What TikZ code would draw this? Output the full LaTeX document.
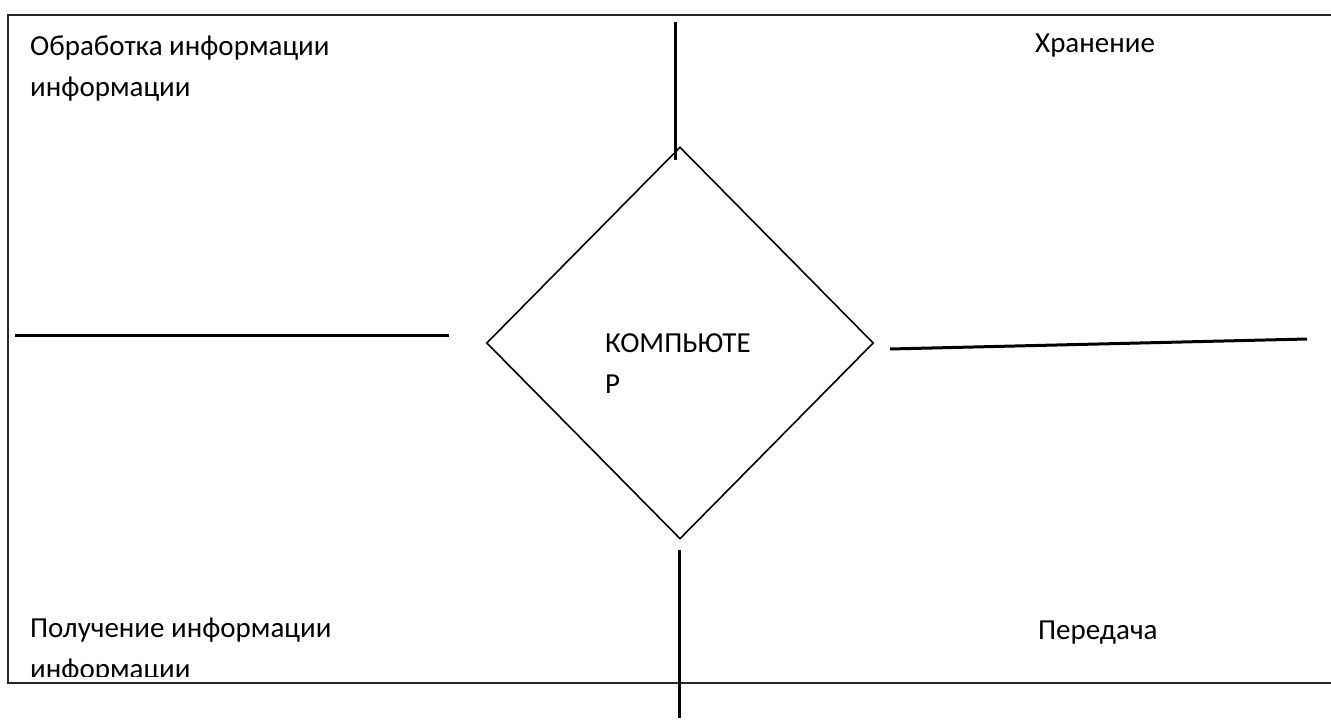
\documentclass[tikz,border=0pt]{standalone}
\usepackage{fontspec}
\setmainfont{Carlito}
\usetikzlibrary{shapes.geometric}
\tikzset{
  lbl/.style={anchor=base west, inner sep=0pt, align=left, font=\fontsize{29}{41}\selectfont},
  frame/.style={line width=1.8pt, black!85},
  bar/.style={line width=3pt, black},
  dia/.style={draw, diamond, line width=1.6pt, inner sep=0pt, minimum width=387pt, minimum height=392pt}
}
\begin{document}
\begin{tikzpicture}[x=1pt,y=-1pt]
\useasboundingbox (0,0) rectangle (1331,722);
\fill[white] (0,0) rectangle (1331,722);
% frame (right side lies beyond the picture)
\coordinate (fr1) at (1331,15);
\coordinate (fr2) at (8,15);
\coordinate (fr3) at (8,683);
\coordinate (fr4) at (1331,683);
\draw[frame] (fr1) -- (fr2) -- (fr3) -- (fr4);
% diamond
\node[dia] (pc) at (680,343) {};
\node[lbl] (pclabel) at (605,393) {КОМПЬЮТЕ\\Р};
% texts
\node[lbl] (proc) at (30,97) {Обработка информации\\информации};
\node[lbl] (store) at (1035,53) {Хранение};
\node[lbl] (send) at (1038,639) {Передача};
\begin{scope}
\clip (9,16) rectangle (1331,676);
\node[lbl] (recv) at (30,678) {Получение информации\\информации};
\end{scope}
% bars
\coordinate (ta) at (675,22);
\coordinate (tb) at (675,160);
\coordinate (ba) at (679,550);
\coordinate (bb) at (679,718);
\coordinate (la) at (15,335);
\coordinate (lb) at (449,335);
\coordinate (ra) at (890,349);
\coordinate (rb) at (1307,339);
\draw[bar] (ta) -- (tb);
\draw[bar] (ba) -- (bb);
\draw[bar] (la) -- (lb);
\draw[bar] (ra) -- (rb);
\end{tikzpicture}
\end{document}
